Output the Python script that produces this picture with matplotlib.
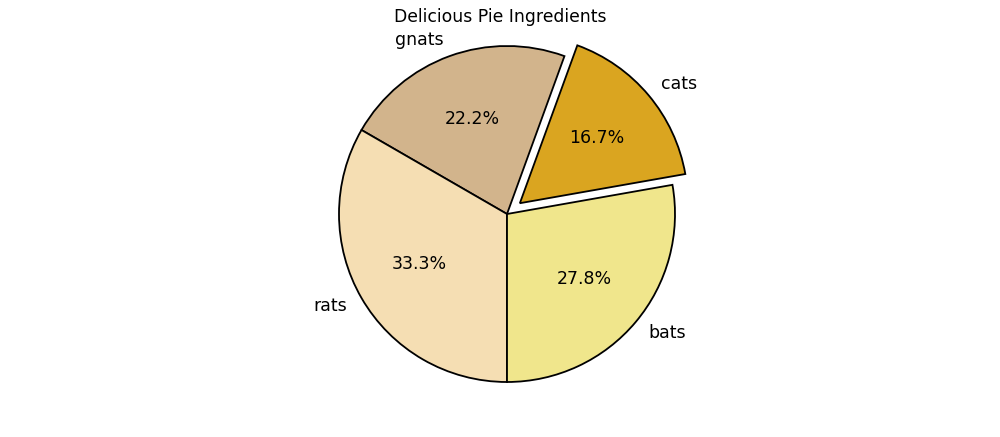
import matplotlib
matplotlib.use("Agg")
import matplotlib.pyplot as plt

labels = ['cats', 'gnats', 'rats', 'bats']
sizes = [3, 4, 6, 5]
explode = [0.1, 0, 0, 0]
colors = ['goldenrod', 'tan', 'wheat', 'khaki']

W, H = 1000, 437
fig = plt.figure(figsize=(W / 100, H / 100), dpi=100)
cx, cy, r = 507, 214, 168
ax = fig.add_axes([0.0, (H - (cy + r)) / H, 1.0, 2 * r / H])
ax.pie(sizes, explode=explode, labels=labels, colors=colors,
       autopct='%1.1f%%', startangle=10, frame=True,
       wedgeprops=dict(edgecolor='black', linewidth=1.3),
       textprops=dict(fontsize=12.5))
ax.set_aspect('auto')
ax.set_ylim(-1, 1)
ax.set_xlim(-cx / r, (W - cx) / r)
ax.set_axis_off()
fig.text(0.5, 1 - 17 / H, 'Delicious Pie Ingredients',
         ha='center', va='center', fontsize=12.4)
fig.savefig('out.png', dpi=100)
